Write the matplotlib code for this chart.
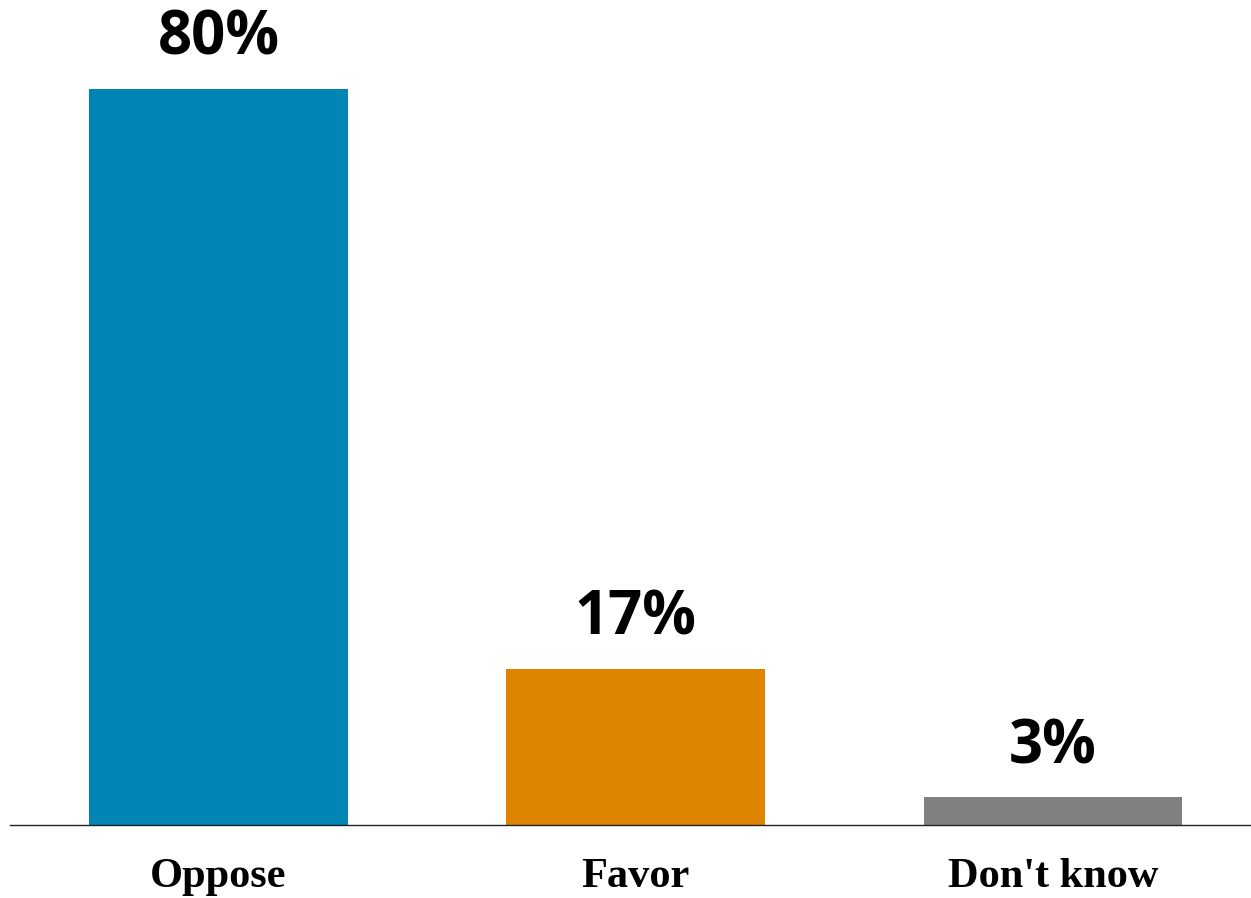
import matplotlib
matplotlib.use("Agg")
import matplotlib.pyplot as plt

categories = ["Oppose", "Favor", "Don't know"]
values = [80, 17, 3]
colors = ["#0085b4", "#df8400", "#808080"]

fig = plt.figure(figsize=(12.51, 8.98), dpi=100)
# baseline a y=825 px, barre de 80 % en haut a y=89 px
ax = fig.add_axes([10 / 1251, 73 / 898, 1241 / 1251, 736 / 898])

x = range(len(categories))
bars = ax.bar(x, values, width=0.62, color=colors)

for b, v in zip(bars, values):
    ax.annotate(f"{v}%", (b.get_x() + b.get_width() / 2, v),
                xytext=(0, 24.5), textcoords="offset points",
                ha="center", va="baseline", fontsize=43,
                fontweight="bold", family="Open Sans")

ax.set_xlim(-0.5, 2.475)
ax.set_ylim(0, 80)
ax.set_xticks(list(x))
ax.set_xticklabels(categories, family="Liberation Serif",
                   fontweight="bold", fontsize=30.5)
ax.tick_params(axis="x", length=0, pad=24)
ax.set_yticks([])
for s in ["top", "right", "left"]:
    ax.spines[s].set_visible(False)
ax.spines["bottom"].set_color("#222222")
ax.spines["bottom"].set_linewidth(1.0)

fig.savefig("out.png", dpi=100)
